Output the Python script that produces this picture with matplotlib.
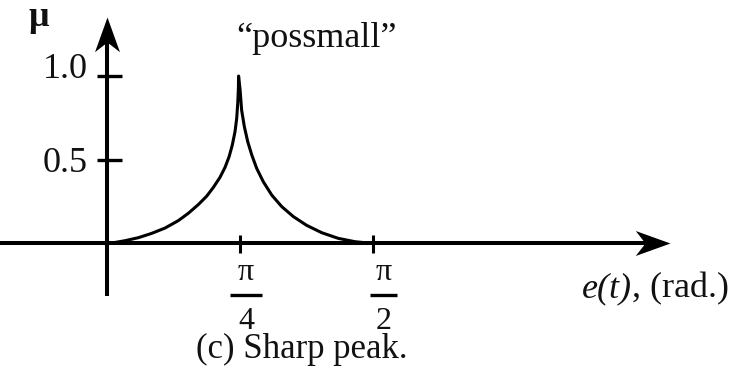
import numpy as np
import matplotlib
matplotlib.use("Agg")
import matplotlib.pyplot as plt
from matplotlib.path import Path

plt.rcParams["font.family"] = ["Liberation Serif", "DejaVu Serif"]

# membership curve "possmall", error in radians vs. mu
rise_x = [0.028, 0.106, 0.185, 0.264, 0.343, 0.421, 0.480, 0.539, 0.589, 0.628,
          0.667, 0.697, 0.721, 0.740, 0.756, 0.766, 0.772, 0.776, 0.777]
rise_mu = [0.0, 0.014, 0.032, 0.058, 0.090, 0.134, 0.178, 0.230, 0.281, 0.333,
           0.393, 0.453, 0.517, 0.587, 0.667, 0.747, 0.836, 0.926, 1.0]
fall_x = [0.786, 0.795, 0.811, 0.831, 0.855, 0.884, 0.923, 0.973, 1.032, 1.101,
          1.179, 1.268, 1.366, 1.465, 1.544]
fall_mu = [0.916, 0.796, 0.697, 0.607, 0.527, 0.447, 0.367, 0.287, 0.218, 0.158,
           0.106, 0.062, 0.028, 0.008, 0.0]

y_ticks = [1.0, 0.5]
y_tick_labels = ["1.0", "0.5"]
x_ticks = [np.pi / 4, np.pi / 2]
x_tick_denoms = ["4", "2"]

curve_x = rise_x + fall_x
curve_mu = rise_mu + fall_mu

FS = 26
INK = "#111111"

fig = plt.figure(figsize=(7.33, 3.72), dpi=100)
ax = fig.add_axes([0, 0, 1, 1])
ax.set_xlim(-0.632, 3.697)
ax.set_ylim(-0.772, 1.455)
ax.axis("off")

# stealth-style arrow heads, tip at the marker origin
up_head = Path([(0, 0), (-0.36, -1.0), (0, -0.72), (0.36, -1.0), (0, 0)],
               [Path.MOVETO, Path.LINETO, Path.LINETO, Path.LINETO, Path.CLOSEPOLY])
right_head = Path([(0, 0), (-1.0, 0.36), (-0.72, 0), (-1.0, -0.36), (0, 0)],
                  [Path.MOVETO, Path.LINETO, Path.LINETO, Path.LINETO, Path.CLOSEPOLY])

# axes
x_end = 3.325
y_top = 1.353
ax.plot([-0.632, x_end - 0.1], [0, 0], color="k", lw=2.9, solid_capstyle="butt")
ax.plot([0, 0], [-0.317, y_top - 0.1], color="k", lw=2.9, solid_capstyle="butt")
ax.plot([x_end], [0], marker=right_head, ms=50, color="k", mew=0)
ax.plot([0], [y_top], marker=up_head, ms=50, color="k", mew=0)

# y ticks and labels
for yt in y_ticks:
    ax.plot([-0.059, 0.089], [yt, yt], color="k", lw=2.4, solid_capstyle="butt")
ax.text(-0.112, 0.988, y_tick_labels[0], fontsize=FS, ha="right", va="baseline", color=INK)
ax.text(-0.112, 0.425, y_tick_labels[1], fontsize=FS, ha="right", va="baseline", color=INK)

# x ticks with pi fractions
label_shift = [0.035, 0.06]
bar_half = [0.095, 0.08]
for xt, den, dx, hw in zip(x_ticks, x_tick_denoms, label_shift, bar_half):
    ax.plot([xt, xt], [0.048, -0.06], color="k", lw=2.2, solid_capstyle="butt")
    ax.text(xt + dx, -0.222, "\u03c0", fontsize=23, ha="center", va="baseline", color=INK)
    ax.plot([xt + dx - hw, xt + dx + hw], [-0.311, -0.311], color="k", lw=2.4,
            solid_capstyle="butt")
    ax.text(xt + dx, -0.515, den, fontsize=23, ha="center", va="baseline", color=INK)

# membership function
ax.plot(curve_x, curve_mu, color="k", lw=2.2, solid_joinstyle="round")

ax.text(-0.402, 1.300, "\u03bc", fontsize=26, fontweight="bold", ha="center",
        va="baseline", color=INK)
ax.text(1.240, 1.174, "\u201cpossmall\u201d", fontsize=FS, ha="center", va="baseline",
        color=INK)

et = ax.text(2.806, -0.323, "e(t)", fontsize=FS, style="italic", ha="left",
             va="baseline", color=INK)
ax.annotate(", (rad.)", xy=(1, 0), xycoords=et, fontsize=FS, ha="left",
            va="bottom", color=INK)

ax.text(1.152, -0.690, "(c) Sharp peak.", fontsize=25, ha="center", va="baseline",
        color=INK)

fig.savefig("out.png", dpi=100)
